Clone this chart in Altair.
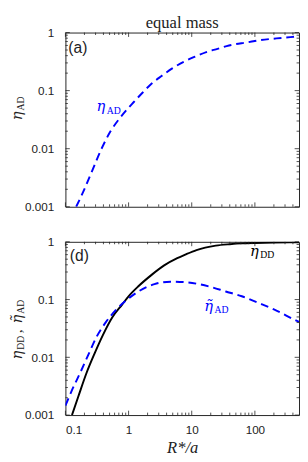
import altair as alt
import pandas as pd

# ---------------- data ----------------
# panel (a): eta_AD (dashed blue)
eta_ad_x = [0.148, 0.191, 0.272, 0.367, 0.52, 0.70, 0.94, 1.19, 1.66, 2.28, 3.37, 4.92,
            7.45, 11.0, 17.0, 25.6, 38.9, 76.5, 123.0, 220.0, 364.0, 500.0]
eta_ad_y = [0.001, 0.0018, 0.00444, 0.0096, 0.0201, 0.0319, 0.047, 0.0624, 0.092, 0.130,
            0.180, 0.241, 0.313, 0.380, 0.461, 0.524, 0.598, 0.679, 0.742, 0.793,
            0.834, 0.857]

# panel (d): eta_DD (solid black)
eta_dd_x = [0.127, 0.16, 0.215, 0.29, 0.39, 0.55, 0.79, 1.0, 1.43, 2.29, 3.66, 5.9,
            7.9, 11.9, 24.0, 40.0, 63.0, 100.0, 200.0, 500.0]
eta_dd_y = [0.001, 0.0021, 0.0053, 0.0117, 0.024, 0.049, 0.082, 0.114, 0.17, 0.265,
            0.39, 0.52, 0.60, 0.72, 0.86, 0.91, 0.94, 0.955, 0.97, 0.98]

# panel (d): tilde eta_AD (dashed blue)
eta_adt_x = [0.1, 0.127, 0.17, 0.23, 0.31, 0.44, 0.62, 0.89, 1.43, 2.57, 4.6, 7.9,
             19.0, 34.6, 62.0, 112.0, 204.0, 437.0, 500.0]
eta_adt_y = [0.00146, 0.0027, 0.0053, 0.011, 0.0224, 0.041, 0.065, 0.094, 0.138, 0.185,
             0.204, 0.2, 0.168, 0.138, 0.114, 0.088, 0.067, 0.044, 0.041]

# tick positions / labels
x_major = [0.1, 1, 10, 100]
x_minor = [0.2, 0.3, 0.4, 0.5, 0.6, 0.7, 0.8, 0.9,
           2, 3, 4, 5, 6, 7, 8, 9,
           20, 30, 40, 50, 60, 70, 80, 90,
           200, 300, 400]
y_major = [0.001, 0.01, 0.1, 1]
y_minor = [0.002, 0.003, 0.004, 0.005, 0.006, 0.007, 0.008, 0.009,
           0.02, 0.03, 0.04, 0.05, 0.06, 0.07, 0.08, 0.09,
           0.2, 0.3, 0.4, 0.5, 0.6, 0.7, 0.8, 0.9]

# curve label anchors (data coordinates)
lab_ad_top = (0.31, 0.0441)
lab_dd = (83.7, 0.557)
lab_adt = (15.8, 0.0626)

# ---------------- styling ----------------
W = 240
H_TOP = 179
H_BOT = 178
BLUE = "#0000ff"
INK = "#222222"
SERIF = "Liberation Serif"
GREEK = "DejaVu Serif"
SANS = "Liberation Sans"
ETA = "\u03b7"
ETA_T = "\u03b7\u0303"

xscale = alt.Scale(type="log", domain=[0.1, 500], nice=False)
yscale = alt.Scale(type="log", domain=[0.001, 1], nice=False)


def X(bottom_labels):
    if bottom_labels:
        ax = alt.Axis(values=x_major, format="~g", ticks=False, domain=False, grid=False,
                      labelPadding=10, title="R*/a", titlePadding=4)
    else:
        ax = alt.Axis(values=x_major, labels=False, ticks=False, domain=False,
                      grid=False, title=None)
    return alt.X("x:Q", scale=xscale, axis=ax)


def Y():
    ax = alt.Axis(values=y_major, format="~g", ticks=False, domain=False, grid=False,
                  labelPadding=12, title=None)
    return alt.Y("y:Q", scale=yscale, axis=ax)


one = pd.DataFrame({"k": [0]})


def ticks(H, bottom_labels):
    layers = []
    for vals, ln in ((x_major, 4.5), (x_minor, 2.5)):
        df = pd.DataFrame({"x": vals})
        base = alt.Chart(df).mark_rule(color=INK, strokeWidth=0.8)
        layers.append(base.encode(x=X(bottom_labels), y=alt.value(0), y2=alt.value(ln)))
        layers.append(base.encode(x=X(bottom_labels), y=alt.value(H), y2=alt.value(H - ln)))
    for vals, ln in ((y_major, 4.5), (y_minor, 2.5)):
        df = pd.DataFrame({"y": vals})
        base = alt.Chart(df).mark_rule(color=INK, strokeWidth=0.8)
        layers.append(base.encode(y=Y(), x=alt.value(0), x2=alt.value(ln)))
        layers.append(base.encode(y=Y(), x=alt.value(W), x2=alt.value(W - ln)))
    return layers


def curve(xs, ys, color, dashed, bottom_labels):
    df = pd.DataFrame({"x": xs, "y": ys})
    kw = dict(color=color, strokeWidth=2, clip=True, interpolate="monotone")
    if dashed:
        kw["strokeDash"] = [8, 5]
    return alt.Chart(df).mark_line(**kw).encode(x=X(bottom_labels), y=Y())


def curve_label(anchor, main, sub, color, sub_dx, sub_dy, bottom_labels):
    df = pd.DataFrame({"x": [anchor[0]], "y": [anchor[1]]})
    a = alt.Chart(df).mark_text(align="left", baseline="alphabetic", font=GREEK,
                                fontStyle="italic", fontSize=15, color=color).encode(
        x=X(bottom_labels), y=Y(), text=alt.value(main))
    b = alt.Chart(df).mark_text(align="left", baseline="alphabetic", font=SERIF,
                                fontSize=10, color=color, dx=sub_dx, dy=sub_dy).encode(
        x=X(bottom_labels), y=Y(), text=alt.value(sub))
    return [a, b]


def rot_text(pieces, x0, y0):
    # pieces: (text, offset along text direction, baseline shift, font, size, italic)
    out = []
    for txt, off, shift, font, size, ital in pieces:
        kw = dict(angle=270, align="left", baseline="alphabetic", font=font,
                  fontSize=size, color=INK, dx=off, dy=shift)
        if ital:
            kw["fontStyle"] = "italic"
        out.append(alt.Chart(one).mark_text(**kw).encode(
            x=alt.value(x0), y=alt.value(y0), text=alt.value(txt)))
    return out


def free_text(txt, x0, y0, font, size, align="left"):
    return alt.Chart(one).mark_text(align=align, baseline="alphabetic", font=font,
                                    fontSize=size, color=INK).encode(
        x=alt.value(x0), y=alt.value(y0), text=alt.value(txt))


XB = -45  # baseline of the rotated y titles, relative to the plot's left edge

# ---------------- panel (a) ----------------
top_layers = [curve(eta_ad_x, eta_ad_y, BLUE, True, False)]
top_layers += ticks(H_TOP, False)
top_layers += curve_label(lab_ad_top, ETA, "AD", BLUE, 10.5, 2.5, False)
top_layers += rot_text([(ETA, 0, 0, GREEK, 15, True),
                        ("AD", 10, 2.5, SERIF, 10, False)], XB, 90)
top_layers.append(free_text("(a)", 3, 21, SANS, 16))
top_layers.append(free_text("equal mass", W / 2, -4.5, SERIF, 17, align="center"))

top = alt.layer(*top_layers).properties(width=W, height=H_TOP)

# ---------------- panel (d) ----------------
bot_layers = [curve(eta_dd_x, eta_dd_y, "#000000", False, True),
              curve(eta_adt_x, eta_adt_y, BLUE, True, True)]
bot_layers += ticks(H_BOT, True)
bot_layers += curve_label(lab_dd, ETA, "DD", "#000000", 10.5, 2.0, True)
bot_layers += curve_label(lab_adt, ETA_T, "AD", BLUE, 10.5, 1.5, True)
bot_layers += rot_text([(ETA, 0, 0, GREEK, 15, True),
                        ("DD", 10, 2.5, SERIF, 10, False),
                        (",", 27, 0, SERIF, 16, False),
                        (ETA_T, 37, 0, GREEK, 15, True),
                        ("AD", 47, 2.5, SERIF, 10, False)],
                       XB, 121)
bot_layers.append(free_text("(d)", 4.5, 20, SANS, 16))

bot = alt.layer(*bot_layers).properties(width=W, height=H_BOT)

chart = alt.vconcat(top, bot, spacing=22).properties(
    padding={"left": 0, "top": 0, "right": 0, "bottom": 0}
).configure_view(stroke=INK, strokeWidth=1).configure_axis(
    labelFont=SANS, labelFontSize=12, labelColor=INK,
    titleFont=SERIF, titleFontSize=17, titleFontStyle="italic",
    titleFontWeight="normal", titleColor=INK)

chart.save("out.html", embed_options={"renderer": "svg", "actions": False})
